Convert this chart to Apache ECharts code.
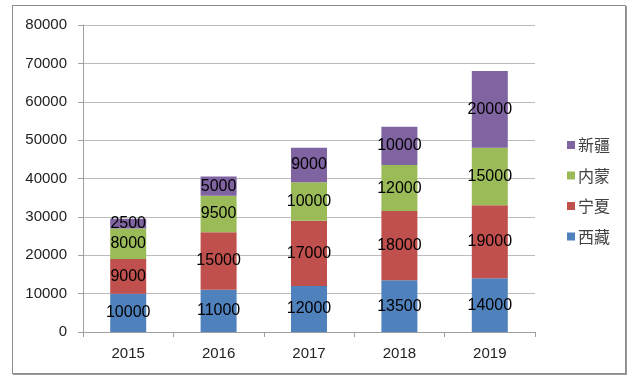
<!DOCTYPE html>
<html><head><meta charset="utf-8">
<script src="https://cdn.jsdelivr.net/npm/echarts@6/dist/echarts.min.js"></script>
<style>
html,body{margin:0;padding:0;background:#fff;}
#frame{position:absolute;left:12px;top:5px;width:612px;height:367px;border:1px solid #8c8c8c;box-shadow:1px 1px 0 #9a9a9a;}
#c{position:absolute;left:0;top:0;width:637px;height:378px;}
</style></head>
<body>
<div id="frame"></div>
<div id="c"></div>
<script>
var categories = ['2015','2016','2017','2018','2019'];
var xizang = [10000,11000,12000,13500,14000];
var ningxia = [9000,15000,17000,18000,19000];
var neimeng = [8000,9500,10000,12000,15000];
var xinjiang = [2500,5000,9000,10000,20000];
var seriesNames = ['西藏','宁夏','内蒙','新疆'];
var colors = ['#4F81BD','#C0504D','#9BBB59','#8064A2'];
var font = '"Liberation Sans", Arial, sans-serif';
function mk(name, data, color){
  return {name:name,type:'bar',stack:'total',data:data,barWidth:36,
    itemStyle:{color:color},
    label:{show:true,position:'inside',color:'#000',fontSize:16,fontFamily:font}};
}
var chart = echarts.init(document.getElementById('c'));
chart.setOption({
  animation:false,
  grid:{left:83,right:102,top:25,bottom:46},
  legend:{orient:'vertical',left:562,top:132,itemWidth:8,itemHeight:8,itemGap:14.5,
    icon:'rect',data:['新疆','内蒙','宁夏','西藏'],
    textStyle:{fontSize:16,lineHeight:16,color:'#404040',fontFamily:'"Noto Sans CJK SC", sans-serif',padding:[0,0,0,-2]}},
  xAxis:{type:'category',data:categories,
    axisLine:{lineStyle:{color:'#a0a0a0'}},
    axisTick:{show:true,length:5,lineStyle:{color:'#a0a0a0'}},
    axisLabel:{color:'#222',fontSize:15,fontFamily:font,margin:14}},
  yAxis:{type:'value',min:0,max:80000,interval:10000,
    axisLine:{show:true,lineStyle:{color:'#a0a0a0'}},
    axisTick:{show:true,length:5,lineStyle:{color:'#a0a0a0'}},
    splitLine:{lineStyle:{color:'#bcbcbc'}},
    axisLabel:{color:'#222',fontSize:15,fontFamily:font,margin:16,formatter:function(v){return String(v);}}},
  series:[mk(seriesNames[0],xizang,colors[0]),mk(seriesNames[1],ningxia,colors[1]),
          mk(seriesNames[2],neimeng,colors[2]),mk(seriesNames[3],xinjiang,colors[3])]
});
</script>
</body></html>
